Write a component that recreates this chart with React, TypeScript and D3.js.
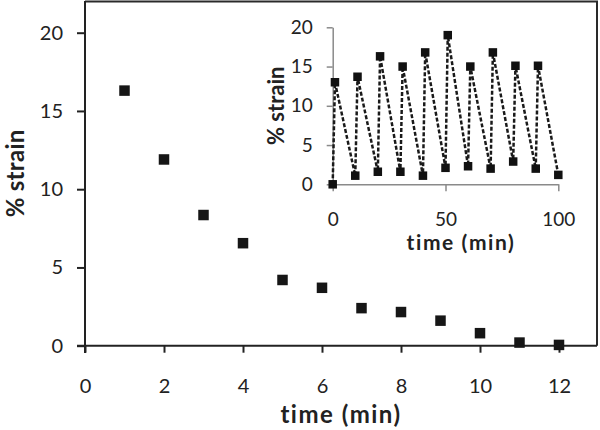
import * as d3 from "d3";
import React from "react";

// main chart: strain recovery after release
const mainTime = [1, 2, 3, 4, 5, 6, 7, 8, 9, 10, 11, 12];
const mainStrain = [16.3, 11.9, 8.35, 6.55, 4.2, 3.7, 2.4, 2.15, 1.6, 0.8, 0.2, 0.05];
const mainXTicks = [0, 2, 4, 6, 8, 10, 12];
const mainYTicks = [0, 5, 10, 15, 20];

// inset: repeated load / release cycles
const insetTime = [0, 1, 10, 11, 20, 21, 30, 31, 40, 41, 50, 51, 60, 61, 70, 71, 80, 81, 90, 91, 100];
const insetStrain = [0, 13.0, 1.1, 13.7, 1.6, 16.3, 1.6, 15.0, 1.1, 16.8, 2.1, 19.0, 2.3, 15.0, 2.0, 16.8, 2.9, 15.1, 2.0, 15.1, 1.2];
const insetXTicks = [0, 50, 100];
const insetYTicks = [0, 5, 10, 15, 20];

const FONT = "Lato, 'Open Sans', sans-serif";

const App = (): React.ReactElement => {
  const chartRef = React.useRef<SVGSVGElement>(null);

  React.useEffect(() => {
    const svg = d3.select(chartRef.current);
    svg.selectAll("*").remove();

    // ---- main plot ----
    const x = d3.scaleLinear().domain([0, 12]).range([85, 559]);
    const y = d3.scaleLinear().domain([0, 20]).range([345.7, 32.7]);

    // plot area frame (top + right)
    svg
      .append("path")
      .attr("d", `M85,1.5H597V345.7`)
      .attr("fill", "none")
      .attr("stroke", "#2a2a2a")
      .attr("stroke-width", 2);

    const xAxis = svg
      .append("g")
      .attr("transform", `translate(0, ${y(0)})`)
      .call(
        d3
          .axisBottom(x)
          .tickValues(mainXTicks)
          .tickSize(7)
          .tickSizeOuter(0)
          .tickPadding(26)
      );
    xAxis.select(".domain").attr("d", `M77,0H597`);

    const yAxis = svg
      .append("g")
      .attr("transform", `translate(${x(0)}, 0)`)
      .call(
        d3
          .axisLeft(y)
          .tickValues(mainYTicks)
          .tickSize(8)
          .tickSizeOuter(0)
          .tickPadding(14)
      );
    yAxis.select(".domain").attr("d", `M0,1V353`);

    [xAxis, yAxis].forEach((g) => {
      g.select(".domain").attr("stroke", "#222").attr("stroke-width", 2);
      g.selectAll(".tick line").attr("stroke", "#222").attr("stroke-width", 2);
      g.selectAll(".tick text")
        .attr("fill", "#222")
        .style("font-family", FONT)
        .style("font-size", "20px");
    });

    svg
      .append("text")
      .attr("x", (85 + 597) / 2)
      .attr("y", 423)
      .attr("text-anchor", "middle")
      .style("font-family", FONT)
      .style("font-size", "24px")
      .style("font-weight", "bold")
      .style("letter-spacing", "1.5px")
      .attr("fill", "#222")
      .text("time (min)");

    svg
      .append("text")
      .attr("transform", `translate(24, ${(y(0) + 1) / 2}) rotate(-90)`)
      .attr("text-anchor", "middle")
      .style("font-family", FONT)
      .style("font-size", "24px")
      .style("font-weight", "bold")
      .style("letter-spacing", "0.3px")
      .attr("fill", "#222")
      .text("% strain");

    const mSize = 10.5;
    svg
      .append("g")
      .selectAll("rect")
      .data(mainTime)
      .join("rect")
      .attr("x", (d) => x(d) - mSize / 2)
      .attr("y", (_, i) => y(mainStrain[i]) - mSize / 2)
      .attr("width", mSize)
      .attr("height", mSize)
      .attr("fill", "#161616");

    // ---- inset ----
    const ix = d3.scaleLinear().domain([0, 100]).range([332.7, 558.3]);
    const iy = d3.scaleLinear().domain([0, 20]).range([184.3, 27.3]);

    const ixAxis = svg
      .append("g")
      .attr("transform", `translate(0, ${iy(0)})`)
      .call(
        d3
          .axisBottom(ix)
          .tickValues(insetXTicks)
          .tickSize(7)
          .tickSizeOuter(0)
          .tickPadding(21)
      );
    const iyAxis = svg
      .append("g")
      .attr("transform", `translate(${ix(0)}, 0)`)
      .call(
        d3
          .axisLeft(iy)
          .tickValues(insetYTicks)
          .tickSize(6)
          .tickSizeOuter(0)
          .tickPadding(14)
      );

    [ixAxis, iyAxis].forEach((g) => {
      g.select(".domain").attr("stroke", "#8a8a8a").attr("stroke-width", 1.5);
      g.selectAll(".tick line").attr("stroke", "#8a8a8a").attr("stroke-width", 1.5);
      g.selectAll(".tick text")
        .attr("fill", "#222")
        .style("font-family", FONT)
        .style("font-size", "19px");
    });

    svg
      .append("text")
      .attr("x", 461)
      .attr("y", 250)
      .attr("text-anchor", "middle")
      .style("font-family", FONT)
      .style("font-size", "21px")
      .style("font-weight", "bold")
      .style("letter-spacing", "1.6px")
      .attr("fill", "#222")
      .text("time (min)");

    svg
      .append("text")
      .attr("transform", `translate(284, ${(iy(0) + iy(20)) / 2}) rotate(-90)`)
      .attr("text-anchor", "middle")
      .style("font-family", FONT)
      .style("font-size", "22px")
      .style("font-weight", "bold")
      .attr("fill", "#222")
      .text("% strain");

    const line = d3
      .line<number>()
      .x((d) => ix(d))
      .y((_, i) => iy(insetStrain[i]));

    svg
      .append("path")
      .datum(insetTime)
      .attr("d", line)
      .attr("fill", "none")
      .attr("stroke", "#1a1a1a")
      .attr("stroke-width", 2.5)
      .attr("stroke-dasharray", "4,2");

    const iSize = 8.5;
    svg
      .append("g")
      .selectAll("rect")
      .data(insetTime)
      .join("rect")
      .attr("x", (d) => ix(d) - iSize / 2)
      .attr("y", (_, i) => iy(insetStrain[i]) - iSize / 2)
      .attr("width", iSize)
      .attr("height", iSize)
      .attr("fill", "#111");
  }, []);

  return (
    <svg
      ref={chartRef}
      width={600}
      height={430}
      style={{ position: "absolute", left: 0, top: 0, background: "#fff" }}
    ></svg>
  );
};

export default App;
